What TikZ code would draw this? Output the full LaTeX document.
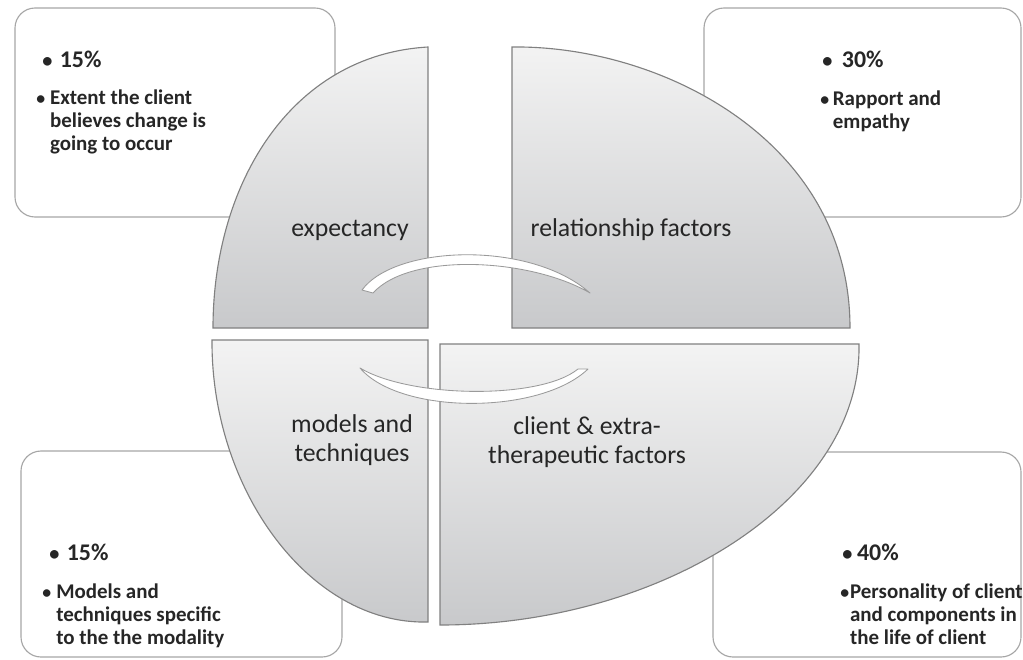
\documentclass[tikz,border=0pt]{standalone}
\usepackage{fontspec}
\setmainfont{Carlito}
\usepackage{tikz}
\usetikzlibrary{positioning}
\definecolor{quadline}{HTML}{808080}
\definecolor{quadtop}{HTML}{F3F3F3}
\definecolor{quadbot}{HTML}{C8C9CB}
\definecolor{boxline}{HTML}{A6A6A6}
\definecolor{arrowline}{HTML}{9A9A9A}
\definecolor{txt}{HTML}{262626}
\tikzset{
    infobox/.style = {
        draw=boxline,
        rounded corners=0.5cm,
        line width=0.8pt
    },
    quadrant/.style = {
        draw=quadline,
        line width=0.8pt,
        top color=quadtop,
        bottom color=quadbot
    },
    cyclearrow/.style = {
        draw=arrowline,
        fill=white,
        line width=0.6pt,
        line join=round
    },
    quadlabel/.style = {
        align=center,
        inner sep=0pt,
        text=txt,
        font=\fontsize{18.3}{20.6}\selectfont
    },
    pcttext/.style = {
        inner sep=0pt,
        text=txt,
        font=\bfseries\fontsize{17}{20}\selectfont
    },
    desctext/.style = {
        inner sep=0pt,
        text=txt,
        font=\bfseries\fontsize{14.9}{16.4}\selectfont
    },
}
\newcommand{\itembul}[1]{\makebox[#1][l]{\scalebox{0.85}{\textbullet}}}

\begin{document}
\begin{tikzpicture}[x=0.025cm, y=-0.025cm]
                \useasboundingbox (0,0) rectangle (1023,659);

                % side boxes
                \path[infobox] (15,8) rectangle (335,217);
                \path[infobox] (704,8) rectangle (1021,217);
                \path[infobox] (21,451) rectangle (342,657);
                \path[infobox] (713,452) rectangle (1021,657);

                % the four quadrants
                \path[quadrant] (428,47) -- (428,328) -- (213,328) .. controls (213,185) and (290,55) .. (428,47) -- cycle;
                \path[quadrant] (512,47) .. controls (660,45) and (850,140) .. (850,328) -- (512,328) -- cycle;
                \path[quadrant] (212,340) -- (428,340) -- (428,622) .. controls (310,625) and (211,490) .. (212,340) -- cycle;
                \path[quadrant] (440,344) -- (859,344) .. controls (862,500) and (660,625) .. (440,625) -- cycle;

                \node[quadlabel, anchor=base] (expect) at (350,236) {expectancy};
                \node[quadlabel, anchor=base] (relat) at (631,236) {relationship factors};
                \node[quadlabel, anchor=base] (models) at (352,461) {models and\\techniques};
                \node[quadlabel, anchor=base] (client) at (587,463) {client \& extra-\\therapeutic factors};

                % curved arrows
                \path[cyclearrow] (362,290) .. controls (395,245) and (530,240) .. (590,293)
                    .. controls (530,258) and (410,252) .. (373,293) -- cycle;
                \path[cyclearrow] (360,368) .. controls (400,415) and (540,415) .. (588,369)
                    -- (578,369) .. controls (540,400) and (410,398) .. (360,368) -- cycle;

                % box texts
                \node[pcttext, anchor=base west] (pcttl) at (42,67) {\itembul{12.5pt}15\%};
                \node[desctext, anchor=base west] (desctl) at (36,104) {\itembul{9.8pt}\begin{tabular}[t]{@{}l@{}}Extent the client\\believes change is\\going to occur\end{tabular}};
                \node[pcttext, anchor=base west] (pcttr) at (822,67) {\itembul{14pt}30\%};
                \node[desctext, anchor=base west] (desctr) at (820,105) {\itembul{9pt}\begin{tabular}[t]{@{}l@{}}Rapport and\\empathy\end{tabular}};
                \node[pcttext, anchor=base west] (pctbl) at (49,560) {\itembul{12.5pt}15\%};
                \node[desctext, anchor=base west] (descbl) at (42,598) {\itembul{10pt}\begin{tabular}[t]{@{}l@{}}Models and\\techniques specific\\to the the modality\end{tabular}};
                \node[pcttext, anchor=base west] (pctbr) at (842,560) {\itembul{10.5pt}40\%};
                \node[desctext, anchor=base west] (descbr) at (840,598) {\itembul{7pt}\begin{tabular}[t]{@{}l@{}}Personality of client\\and components in\\the life of client\end{tabular}};
            \end{tikzpicture}
\end{document}
